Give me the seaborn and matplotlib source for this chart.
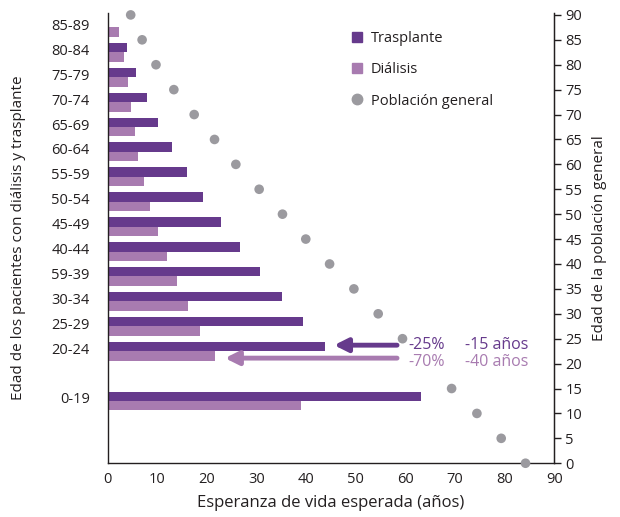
#!/usr/bin/env python3

# import packages
import pandas as pd
import seaborn as sns
import matplotlib.pyplot as plt
from matplotlib.lines import Line2D

# data
grupos = ['85-89', '80-84', '75-79', '70-74', '65-69', '60-64', '55-59', '50-54',
          '45-49', '40-44', '59-39', '30-34', '25-29', '20-24', '0-19']
posicion = [87.5, 82.5, 77.5, 72.5, 67.5, 62.5, 57.5, 52.5,
            47.5, 42.5, 37.5, 32.5, 27.5, 22.5, 12.5]
trasplante = [0, 3.8, 5.6, 7.9, 10.1, 12.9, 15.9, 19.2, 22.8, 26.6, 30.7, 35.1, 39.3, 43.8, 63.2]
dialisis = [2.2, 3.2, 4.0, 4.6, 5.4, 6.0, 7.3, 8.5, 10.1, 11.9, 13.9, 16.1, 18.6, 21.6, 38.9]

edad_pob = [90, 85, 80, 75, 70, 65, 60, 55, 50, 45, 40, 35, 30, 25, 15, 10, 5, 0]
esperanza_pob = [4.6, 6.9, 9.7, 13.3, 17.4, 21.5, 25.8, 30.5, 35.2, 39.9,
                 44.7, 49.6, 54.5, 59.4, 69.3, 74.4, 79.3, 84.2]

# colours
c_tras = '#663a8c'
c_dial = '#a87bb0'
c_pob = '#9b9a9f'
c_txt = '#231f20'

df = pd.DataFrame({'pos': posicion * 2,
                   'valor': trasplante + dialisis,
                   'tipo': ['Trasplante'] * len(grupos) + ['Diálisis'] * len(grupos)})
pob = pd.DataFrame({'edad': edad_pob, 'esperanza': esperanza_pob})

sns.set_style('white')
plt.rcParams['font.family'] = ['Open Sans', 'DejaVu Sans']
plt.rcParams['text.color'] = c_txt

fig = plt.figure(figsize=(6.2, 5.17), dpi=100)
ax = fig.add_axes([0.174, 0.104, 0.72, 0.871])

sns.barplot(data=df, x='valor', y='pos', hue='tipo', orient='y', native_scale=True,
            hue_order=['Diálisis', 'Trasplante'], palette={'Trasplante': c_tras, 'Diálisis': c_dial},
            saturation=1, width=0.76, linewidth=0, legend=False, ax=ax)

ax.set_xlim(0, 90)
ax.set_ylim(0, 90.4)
ax.set_xticks(range(0, 91, 10))
ax.set_yticks([p + 0.6 for p in posicion])
ax.set_yticklabels(grupos)
ax.tick_params(axis='y', length=0, labelsize=10.5, colors=c_txt, pad=13)
ax.tick_params(axis='x', length=0, labelsize=10.5, colors=c_txt, pad=6)
ax.set_xlabel('Esperanza de vida esperada (años)', fontsize=12, color=c_txt, labelpad=6)
ax.set_ylabel('Edad de los pacientes con diálisis y trasplante', fontsize=11, color=c_txt, labelpad=18)
for s in ['left', 'bottom', 'right']:
    ax.spines[s].set_color(c_txt)
    ax.spines[s].set_linewidth(1)
ax.spines['top'].set_visible(False)

# right axis: general population
ax2 = ax.twinx()
sns.scatterplot(data=pob, x='esperanza', y='edad', color=c_pob, s=48, edgecolor='none',
                ax=ax2, clip_on=False, zorder=5)
ax2.set_ylim(0, 90.4)
ax2.set_yticks(range(0, 91, 5))
ax2.tick_params(axis='y', direction='out', length=5, width=1, labelsize=10.5, colors=c_txt, pad=3)
ax2.set_ylabel('Edad de la población general', fontsize=11, color=c_txt, labelpad=7)
for s in ['top', 'left', 'bottom']:
    ax2.spines[s].set_visible(False)
ax2.spines['right'].set_color(c_txt)

# arrows and annotations
ax.annotate('', xy=(45.6, 23.7), xytext=(58.3, 23.7),
            arrowprops=dict(arrowstyle='-|>,head_width=0.4,head_length=0.8', lw=3.5,
                            color=c_tras, shrinkA=0, shrinkB=0, capstyle='round'))
ax.annotate('', xy=(23.6, 21.1), xytext=(58.3, 21.1),
            arrowprops=dict(arrowstyle='-|>,head_width=0.4,head_length=0.8', lw=3.5,
                            color=c_dial, shrinkA=0, shrinkB=0, capstyle='round'))
ax.text(60.5, 23.7, '-25%', color=c_tras, fontsize=11.5, va='center')
ax.text(72.0, 23.7, '-15 años', color=c_tras, fontsize=11.5, va='center')
ax.text(60.5, 20.3, '-70%', color=c_dial, fontsize=11.5, va='center')
ax.text(72.0, 20.3, '-40 años', color=c_dial, fontsize=11.5, va='center')

# legend
handles = [Line2D([], [], marker='s', ls='', color=c_tras, markersize=7.5),
           Line2D([], [], marker='s', ls='', color=c_dial, markersize=7.5),
           Line2D([], [], marker='o', ls='', color=c_pob, markersize=7.5)]
ax2.legend(handles, ['Trasplante', 'Diálisis', 'Población general'], loc='upper left',
           bbox_to_anchor=(0.51, 0.988), frameon=False, fontsize=10.5, labelspacing=1.1,
           handletextpad=0.3, handlelength=1.2)

plt.savefig('out.png', dpi=100)
